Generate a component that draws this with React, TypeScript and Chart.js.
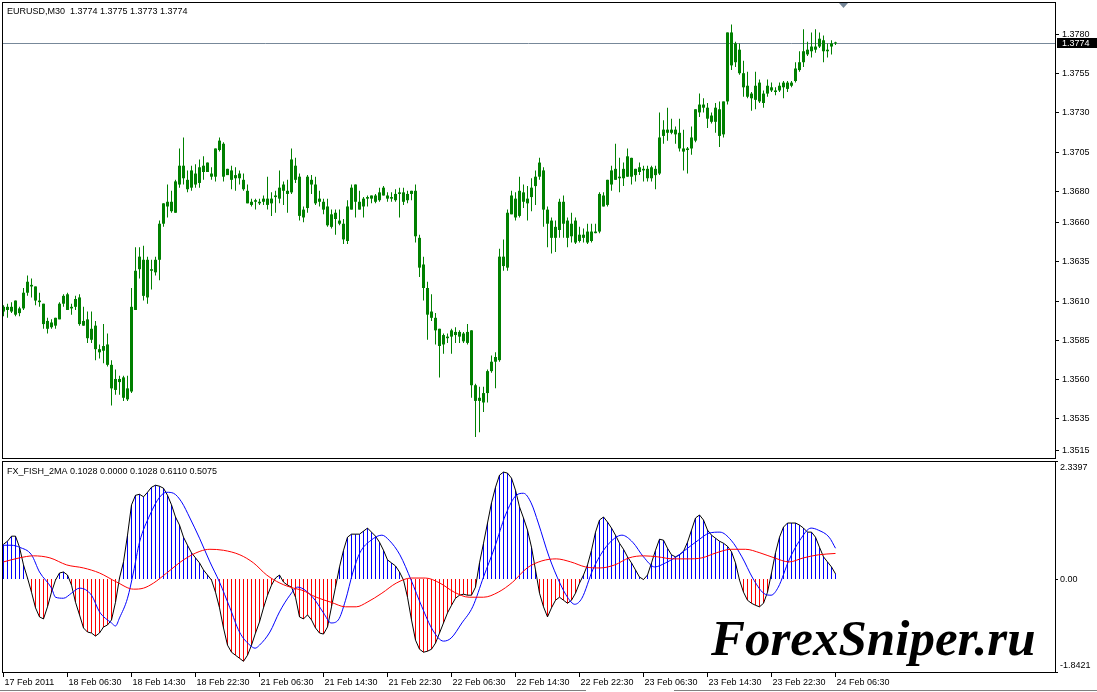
import React, { useEffect, useRef } from "react";
import { Chart, registerables } from "chart.js";

Chart.register(...registerables);

const symbolTitle = "EURUSD,M30  1.3774 1.3775 1.3773 1.3774";
const indicatorTitle = "FX_FISH_2MA 0.1028 0.0000 0.1028 0.6110 0.5075";
const watermarkText = "ForexSniper.ru";

const openPrices = [
  1.3603,1.3606,1.3603,1.3610,1.3602,1.3605,1.3615,1.3620,1.3619,1.3610,
  1.3608,1.3597,1.3593,1.3594,1.3598,1.3613,1.3614,1.3605,1.3611,1.3612,
  1.3597,1.3598,1.3592,1.3594,1.3577,1.3581,1.3582,1.3569,1.3553,1.3560,
  1.3561,1.3547,1.3552,1.3604,1.3638,1.3636,1.3612,1.3629,1.3628,1.3636,
  1.3659,1.3673,1.3667,1.3666,1.3684,1.3696,1.3681,1.3682,1.3684,1.3685,
  1.3692,1.3698,1.3689,1.3689,1.3712,1.3710,1.3694,1.3693,1.3688,1.3691,
  1.3687,1.3680,1.3671,1.3674,1.3672,1.3675,1.3671,1.3672,1.3676,1.3675,
  1.3684,1.3678,1.3679,1.3696,1.3689,1.3663,1.3669,1.3687,1.3684,1.3675,
  1.3673,1.3670,1.3657,1.3666,1.3661,1.3649,1.3648,1.3668,1.3684,1.3668,
  1.3670,1.3675,1.3677,1.3673,1.3674,1.3682,1.3677,1.3675,1.3674,1.3679,
  1.3679,1.3674,1.3680,1.3680,1.3650,1.3633,1.3618,1.3603,1.3599,1.3592,
  1.3582,1.3586,1.3587,1.3590,1.3590,1.3589,1.3590,1.3591,1.3556,1.3546,
  1.3545,1.3551,1.3565,1.3571,1.3572,1.3632,1.3631,1.3677,1.3663,1.3664,
  1.3679,1.3672,1.3676,1.3683,1.3698,1.3693,1.3668,1.3661,1.3650,1.3655,
  1.3673,1.3661,1.3659,1.3661,1.3648,1.3652,1.3647,1.3648,1.3653,1.3654,
  1.3670,1.3671,1.3684,1.3694,1.3688,1.3688,1.3702,1.3701,1.3690,1.3692,
  1.3694,1.3688,1.3688,1.3690,1.3691,1.3715,1.3717,1.3719,1.3719,1.3717,
  1.3705,1.3706,1.3707,1.3712,1.3730,1.3735,1.3733,1.3724,1.3733,1.3715,
  1.3716,1.3737,1.3781,1.3774,1.3770,1.3755,1.3747,1.3739,1.3738,1.3749,
  1.3736,1.3742,1.3746,1.3743,1.3744,1.3749,1.3745,1.3747,1.3750,1.3757,
  1.3762,1.3767,1.3769,1.3770,1.3777,1.3776,1.3769,1.3772,1.3774
];

const highPrices = [
  1.3607,1.3608,1.3609,1.3610,1.3606,1.3618,1.3626,1.3624,1.3619,1.3615,
  1.3608,1.3599,1.3598,1.3599,1.3609,1.3614,1.3615,1.3608,1.3613,1.3614,
  1.3606,1.3603,1.3603,1.3597,1.3582,1.3595,1.3589,1.3572,1.3566,1.3562,
  1.3562,1.3562,1.3618,1.3644,1.3644,1.3645,1.3638,1.3636,1.3638,1.3661,
  1.3672,1.3684,1.3680,1.3687,1.3707,1.3714,1.3693,1.3696,1.3697,1.3700,
  1.3702,1.3698,1.3695,1.3707,1.3714,1.3711,1.3694,1.3696,1.3695,1.3693,
  1.3691,1.3684,1.3675,1.3675,1.3675,1.3677,1.3689,1.3679,1.3680,1.3693,
  1.3686,1.3687,1.3707,1.3701,1.3691,1.3670,1.3690,1.3690,1.3689,1.3680,
  1.3675,1.3675,1.3668,1.3668,1.3668,1.3662,1.3674,1.3684,1.3684,1.3680,
  1.3676,1.3677,1.3677,1.3678,1.3682,1.3683,1.3679,1.3679,1.3681,1.3682,
  1.3682,1.3680,1.3680,1.3684,1.3652,1.3638,1.3622,1.3614,1.3602,1.3592,
  1.3589,1.3589,1.3592,1.3593,1.3591,1.3590,1.3595,1.3591,1.3557,1.3555,
  1.3555,1.3566,1.3575,1.3577,1.3643,1.3649,1.3668,1.3680,1.3679,1.3689,
  1.3684,1.3683,1.3688,1.3693,1.3701,1.3695,1.3670,1.3663,1.3661,1.3675,
  1.3677,1.3663,1.3666,1.3663,1.3657,1.3656,1.3659,1.3659,1.3659,1.3679,
  1.3679,1.3687,1.3696,1.3710,1.3701,1.3698,1.3707,1.3701,1.3694,1.3698,
  1.3696,1.3696,1.3696,1.3696,1.3730,1.3725,1.3733,1.3726,1.3721,1.3726,
  1.3719,1.3708,1.3721,1.3732,1.3742,1.3739,1.3736,1.3730,1.3736,1.3737,
  1.3737,1.3781,1.3786,1.3775,1.3774,1.3763,1.3756,1.3743,1.3756,1.3751,
  1.3744,1.3751,1.3749,1.3746,1.3749,1.3750,1.3750,1.3750,1.3762,1.3769,
  1.3783,1.3775,1.3781,1.3783,1.3781,1.3779,1.3774,1.3776,1.3775
];

const lowPrices = [
  1.3600,1.3599,1.3602,1.3600,1.3600,1.3604,1.3613,1.3612,1.3607,1.3606,
  1.3592,1.3589,1.3592,1.3592,1.3598,1.3606,1.3604,1.3601,1.3604,1.3594,
  1.3594,1.3583,1.3583,1.3572,1.3573,1.3570,1.3568,1.3543,1.3550,1.3550,
  1.3546,1.3546,1.3551,1.3604,1.3624,1.3610,1.3608,1.3617,1.3626,1.3623,
  1.3657,1.3663,1.3666,1.3666,1.3682,1.3684,1.3679,1.3680,1.3682,1.3682,
  1.3687,1.3692,1.3687,1.3686,1.3705,1.3686,1.3690,1.3681,1.3680,1.3684,
  1.3680,1.3672,1.3670,1.3668,1.3671,1.3671,1.3668,1.3664,1.3666,1.3672,
  1.3671,1.3666,1.3678,1.3685,1.3661,1.3660,1.3666,1.3678,1.3671,1.3670,
  1.3665,1.3657,1.3656,1.3652,1.3658,1.3646,1.3646,1.3668,1.3663,1.3668,
  1.3663,1.3670,1.3672,1.3672,1.3673,1.3677,1.3673,1.3673,1.3673,1.3663,
  1.3671,1.3672,1.3674,1.3647,1.3625,1.3610,1.3585,1.3597,1.3582,1.3561,
  1.3576,1.3583,1.3576,1.3583,1.3583,1.3583,1.3582,1.3548,1.3523,1.3526,
  1.3539,1.3545,1.3564,1.3554,1.3571,1.3629,1.3629,1.3665,1.3661,1.3663,
  1.3669,1.3661,1.3667,1.3671,1.3687,1.3657,1.3644,1.3640,1.3641,1.3650,
  1.3650,1.3644,1.3647,1.3646,1.3647,1.3647,1.3646,1.3647,1.3653,1.3653,
  1.3670,1.3670,1.3680,1.3687,1.3679,1.3683,1.3689,1.3684,1.3686,1.3690,
  1.3686,1.3686,1.3686,1.3681,1.3690,1.3710,1.3712,1.3716,1.3710,1.3705,
  1.3693,1.3691,1.3703,1.3711,1.3727,1.3730,1.3720,1.3723,1.3717,1.3708,
  1.3714,1.3735,1.3757,1.3759,1.3754,1.3740,1.3739,1.3731,1.3732,1.3736,
  1.3733,1.3740,1.3743,1.3741,1.3743,1.3739,1.3743,1.3746,1.3749,1.3756,
  1.3759,1.3766,1.3765,1.3768,1.3771,1.3762,1.3765,1.3767,1.3773
];

const closePrices = [
  1.3606,1.3604,1.3606,1.3601,1.3605,1.3615,1.3622,1.3619,1.3610,1.3609,
  1.3595,1.3592,1.3596,1.3599,1.3608,1.3608,1.3604,1.3606,1.3606,1.3595,
  1.3594,1.3586,1.3585,1.3579,1.3579,1.3578,1.3569,1.3554,1.3560,1.3558,
  1.3548,1.3554,1.3606,1.3629,1.3630,1.3613,1.3636,1.3630,1.3636,1.3659,
  1.3672,1.3670,1.3673,1.3686,1.3696,1.3688,1.3687,1.3693,1.3691,1.3695,
  1.3696,1.3692,1.3691,1.3707,1.3706,1.3689,1.3690,1.3687,1.3690,1.3688,
  1.3681,1.3672,1.3673,1.3673,1.3673,1.3673,1.3675,1.3675,1.3677,1.3682,
  1.3680,1.3680,1.3700,1.3687,1.3664,1.3668,1.3689,1.3684,1.3672,1.3673,
  1.3668,1.3658,1.3665,1.3662,1.3659,1.3659,1.3670,1.3682,1.3673,1.3673,
  1.3675,1.3676,1.3675,1.3677,1.3679,1.3677,1.3675,1.3676,1.3678,1.3678,
  1.3673,1.3678,1.3678,1.3651,1.3631,1.3618,1.3601,1.3599,1.3591,1.3581,
  1.3588,1.3587,1.3591,1.3588,1.3587,1.3584,1.3583,1.3556,1.3546,1.3548,
  1.3551,1.3565,1.3571,1.3574,1.3638,1.3638,1.3666,1.3665,1.3675,1.3680,
  1.3673,1.3675,1.3682,1.3689,1.3689,1.3668,1.3659,1.3650,1.3657,1.3673,
  1.3659,1.3650,1.3651,1.3647,1.3652,1.3650,1.3654,1.3654,1.3654,1.3678,
  1.3677,1.3687,1.3693,1.3687,1.3689,1.3694,1.3689,1.3689,1.3694,1.3695,
  1.3693,1.3694,1.3695,1.3694,1.3714,1.3719,1.3719,1.3717,1.3716,1.3707,
  1.3707,1.3707,1.3714,1.3732,1.3735,1.3733,1.3726,1.3728,1.3724,1.3732,
  1.3737,1.3781,1.3760,1.3762,1.3755,1.3746,1.3740,1.3742,1.3747,1.3737,
  1.3742,1.3747,1.3744,1.3744,1.3747,1.3746,1.3749,1.3749,1.3758,1.3762,
  1.3769,1.3770,1.3772,1.3772,1.3772,1.3769,1.3770,1.3774,1.3774
];

const bidPrice = 1.3774;
const priceTicks = [1.378, 1.3755, 1.373, 1.3705, 1.368, 1.366, 1.3635, 1.361, 1.3585, 1.356, 1.3535, 1.3515];

const timeTickBars = [0, 16, 32, 48, 64, 80, 96, 112, 128, 144, 160, 176, 192, 208];
const timeTickLabels = [
  "17 Feb 2011", "18 Feb 06:30", "18 Feb 14:30", "18 Feb 22:30", "21 Feb 06:30",
  "21 Feb 14:30", "21 Feb 22:30", "22 Feb 06:30", "22 Feb 14:30", "22 Feb 22:30",
  "23 Feb 06:30", "23 Feb 14:30", "23 Feb 22:30", "24 Feb 06:30"
];

const fisherValues = [
  0.69,0.75,0.85,0.85,0.63,0.28,0.02,-0.26,-0.57,-0.75,
  -0.79,-0.55,-0.26,-0.02,0.12,0.14,0.08,-0.12,-0.46,-0.71,
  -0.97,-1.05,-1.07,-1.13,-1.07,-0.95,-0.91,-0.81,-0.46,0.02,
  0.34,0.87,1.47,1.66,1.68,1.63,1.72,1.82,1.86,1.84,
  1.80,1.66,1.47,1.23,1.07,0.83,0.67,0.52,0.42,0.32,
  0.18,0.08,-0.02,-0.26,-0.57,-0.97,-1.31,-1.45,-1.51,-1.57,
  -1.63,-1.51,-1.31,-1.07,-0.85,-0.57,-0.32,-0.12,0.02,0.08,
  -0.06,-0.12,-0.16,-0.36,-0.75,-0.79,-0.71,-0.81,-0.97,-1.07,
  -1.09,-0.95,-0.55,-0.16,0.24,0.57,0.83,0.89,0.89,0.89,
  0.95,1.01,0.93,0.85,0.73,0.57,0.38,0.32,0.26,0.14,
  -0.02,-0.36,-0.81,-1.21,-1.39,-1.45,-1.43,-1.39,-1.27,-1.07,
  -0.87,-0.67,-0.52,-0.38,-0.32,-0.30,-0.32,-0.32,-0.16,0.32,
  0.71,1.11,1.51,1.82,2.06,2.12,2.10,2.00,1.76,1.43,
  1.21,0.97,0.63,0.18,-0.28,-0.55,-0.75,-0.57,-0.42,-0.36,
  -0.42,-0.48,-0.42,-0.28,-0.08,0.08,0.28,0.57,0.93,1.17,
  1.23,1.13,1.01,0.87,0.71,0.59,0.44,0.32,0.18,0.04,
  -0.01,0.08,0.32,0.57,0.79,0.77,0.61,0.48,0.44,0.48,
  0.55,0.73,0.97,1.21,1.27,1.17,0.97,0.87,0.81,0.75,
  0.71,0.65,0.54,0.32,-0.02,-0.26,-0.42,-0.48,-0.52,-0.55,
  -0.48,-0.26,0.12,0.52,0.83,1.03,1.11,1.11,1.11,1.07,
  1.01,0.93,0.93,0.83,0.63,0.44,0.34,0.24,0.1028
];

const signalBars = [
  0,2,4,7,9,12,13,15,17,19,22,24,27,28,29,31,32.5,34,36.6,39,
  40.8,42.5,44.5,46.6,49,51.6,54,56.6,59,61.6,62.9,64,66.6,69,71.6,
  73.5,77.3,80,81.9,83.7,85.5,87.3,89.1,91.9,94.6,96.4,99.1,101.9,104.6,107.3,
  110,111.9,114.6,117.3,120,122.8,125.5,128.2,130,131.9,133.7,136.4,139.1,141,142.8,
  144.6,147.3,150,152.8,154.6,157.3,160,162.8,165.5,168.2,171,173.7,176.4,179.1,181.9,
  184.6,187.3,190,191.9,193.7,196.4,199.1,201.9,203.7,206.4,208
];
const signalValues = [
  0.67,0.67,0.63,0.48,0.14,-0.18,-0.36,-0.38,-0.28,-0.18,-0.32,-0.65,-0.87,-0.93,-0.77,-0.38,0.14,0.73,1.27,1.62,
  1.72,1.70,1.53,1.21,0.81,0.34,-0.06,-0.57,-1.05,-1.31,-1.37,-1.31,-1.05,-0.65,-0.32,
  -0.16,-0.36,-0.67,-0.87,-0.81,-0.42,0.12,0.52,0.77,0.87,0.77,0.48,-0.02,-0.55,-1.01,
  -1.23,-1.17,-0.87,-0.55,0.04,0.63,1.27,1.66,1.70,1.51,1.11,0.44,-0.08,-0.36,-0.50,
  -0.38,0.18,0.57,0.81,0.87,0.73,0.44,0.24,0.32,0.44,0.61,0.77,0.91,0.93,0.77,
  0.44,0.02,-0.28,-0.32,-0.16,0.38,0.77,1.01,0.97,0.83,0.611
];

const slowBars = [
  0,4,7.5,11.6,15.8,20,24,28.3,32.5,35,37.5,40.8,45,49.1,51.6,55,59.1,62.5,65.8,69.1,
  72.5,74.6,78.2,81.9,85.5,88.2,90.9,94.6,98.2,101.9,105.5,109.1,112.7,116.4,120,123.7,127.3,130.9,134.6,138.2,
  141.8,145.5,149.1,152.8,156.4,160,163.6,167.3,171,174.6,178.2,181.9,185.5,189.1,192.7,196.4,200,203.7,208
];
const slowValues = [
  0.34,0.42,0.46,0.42,0.28,0.22,0.12,-0.06,-0.20,-0.18,-0.08,0.12,0.38,0.55,0.59,0.57,0.48,0.32,0.08,-0.08,
  -0.18,-0.22,-0.36,-0.46,-0.55,-0.55,-0.46,-0.28,-0.08,0.02,0.02,-0.08,-0.26,-0.36,-0.36,-0.26,-0.06,0.22,0.36,0.40,
  0.34,0.24,0.22,0.28,0.42,0.46,0.44,0.40,0.40,0.42,0.52,0.59,0.59,0.52,0.42,0.34,0.42,0.48,0.5075
];

const fishTicks = [2.3397, 0, -1.8421];
const fishTickLabels = ["2.3397", "0.00", "-1.8421"];

// view settings
const X_MIN = -0.375;
const X_MAX = 262.875;
const PRICE_MIN = 1.350959;
const PRICE_MAX = 1.380041;
const FISH_MIN = -1.8421;
const FISH_MAX = 2.3397;

const CANDLE = "#008000";
const AXIS_FONT = '9px "Liberation Sans", Arial, sans-serif';

const mainOverlay = {
  id: "mainOverlay",
  beforeDatasetsDraw(chart: any) {
    const { ctx, chartArea: ca, scales } = chart;
    const yb = Math.round(scales.y.getPixelForValue(bidPrice)) + 0.5;
    ctx.save();
    ctx.strokeStyle = "#778899";
    ctx.lineWidth = 1;
    ctx.beginPath();
    ctx.moveTo(ca.left, yb);
    ctx.lineTo(ca.right, yb);
    ctx.stroke();
    ctx.restore();
  },
  afterDraw(chart: any) {
    const { ctx, chartArea: ca, scales } = chart;
    ctx.save();
    ctx.strokeStyle = "#000";
    ctx.lineWidth = 1;
    ctx.strokeRect(ca.left + 0.5, ca.top + 0.5, ca.right - ca.left, ca.bottom - ca.top);
    ctx.font = AXIS_FONT;
    ctx.fillStyle = "#000";
    ctx.textAlign = "left";
    ctx.textBaseline = "middle";
    priceTicks.forEach((v) => {
      const y = Math.round(scales.y.getPixelForValue(v)) + 0.5;
      ctx.beginPath();
      ctx.moveTo(ca.right + 1, y);
      ctx.lineTo(ca.right + 4, y);
      ctx.stroke();
      ctx.fillText(v.toFixed(4), ca.right + 7, y + 0.5);
    });
    const yb = Math.round(scales.y.getPixelForValue(bidPrice)) + 0.5;
    ctx.fillStyle = "#000";
    ctx.fillRect(ca.right + 2, yb - 5.5, 40, 10);
    ctx.fillStyle = "#fff";
    ctx.fillText(bidPrice.toFixed(4), ca.right + 7, yb + 0.5);
    ctx.fillStyle = "#000";
    ctx.textBaseline = "alphabetic";
    ctx.fillText(symbolTitle, 7, 14);
    // shift marker
    ctx.fillStyle = "#778899";
    ctx.beginPath();
    ctx.moveTo(839, ca.top + 1);
    ctx.lineTo(848, ca.top + 1);
    ctx.lineTo(843.5, ca.top + 6);
    ctx.closePath();
    ctx.fill();
    ctx.restore();
  },
};

const fishOverlay = {
  id: "fishOverlay",
  afterDraw(chart: any) {
    const { ctx, chartArea: ca, scales } = chart;
    ctx.save();
    ctx.strokeStyle = "#000";
    ctx.lineWidth = 1;
    ctx.strokeRect(ca.left + 0.5, ca.top + 0.5, ca.right - ca.left, ca.bottom - ca.top);
    ctx.font = AXIS_FONT;
    ctx.fillStyle = "#000";
    ctx.textAlign = "left";
    ctx.textBaseline = "middle";
    fishTicks.forEach((v, i) => {
      const py = scales.y.getPixelForValue(v);
      const y = Math.round(Math.min(Math.max(py, ca.top), ca.bottom)) + 0.5;
      ctx.beginPath();
      ctx.moveTo(ca.right + 1, y);
      ctx.lineTo(ca.right + 3, y);
      ctx.stroke();
      const ly = Math.min(Math.max(y, ca.top + 7), ca.bottom - 6);
      ctx.fillText(fishTickLabels[i], ca.right + 5, ly);
    });
    ctx.textBaseline = "alphabetic";
    ctx.fillText(indicatorTitle, 7, ca.top + 13);
    // time axis
    timeTickBars.forEach((b, i) => {
      const x = Math.round(scales.x.getPixelForValue(b) - 0.5) + 0.5;
      ctx.beginPath();
      ctx.moveTo(x, ca.bottom + 1);
      ctx.lineTo(x, ca.bottom + 5);
      ctx.stroke();
      ctx.fillText(timeTickLabels[i], x + 1, ca.bottom + 13);
    });
    // bottom tab bar edge
    ctx.strokeStyle = "#808080";
    ctx.beginPath();
    ctx.moveTo(0, ca.bottom + 18.5);
    ctx.lineTo(586, ca.bottom + 18.5);
    ctx.moveTo(674, ca.bottom + 18.5);
    ctx.lineTo(1097, ca.bottom + 18.5);
    ctx.stroke();
    // watermark
    ctx.font = 'italic bold 51px "Liberation Serif", "Times New Roman", serif';
    ctx.fillStyle = "#000";
    ctx.fillText(watermarkText, 711, ca.bottom - 17);
    ctx.restore();
  },
};

export default function App() {
  const mainRef = useRef<HTMLCanvasElement | null>(null);
  const fishRef = useRef<HTMLCanvasElement | null>(null);

  useEffect(() => {
    const idx = openPrices.map((_, i) => i);
    const mainChart = new Chart(mainRef.current as HTMLCanvasElement, {
      type: "bar",
      data: {
        datasets: [
          {
            label: "body",
            data: idx.map((i) => ({ x: i, y: [openPrices[i], closePrices[i]] })) as any,
            backgroundColor: CANDLE,
            borderWidth: 0,
            barThickness: 3,
            minBarLength: 1,
            grouped: false,
            inflateAmount: 0,
            order: 0,
          } as any,
          {
            label: "wick",
            data: idx.map((i) => ({ x: i, y: [lowPrices[i], highPrices[i]] })) as any,
            backgroundColor: CANDLE,
            borderWidth: 0,
            barThickness: 1,
            grouped: false,
            inflateAmount: 0,
            order: 1,
          } as any,
        ],
      },
      options: {
        responsive: false,
        animation: false,
        devicePixelRatio: 1,
        events: [],
        layout: { padding: { left: 2, top: 2, right: 42, bottom: 2 } },
        scales: {
          x: { type: "linear", min: X_MIN, max: X_MAX, offset: false, display: false },
          y: { type: "linear", min: PRICE_MIN, max: PRICE_MAX, beginAtZero: false, display: false },
        },
        plugins: { legend: { display: false }, tooltip: { enabled: false } },
      },
      plugins: [mainOverlay],
    });

    const fishChart = new Chart(fishRef.current as HTMLCanvasElement, {
      type: "bar",
      data: {
        datasets: [
          {
            type: "line",
            label: "slow",
            data: slowBars.map((b, i) => ({ x: b, y: slowValues[i] })),
            borderColor: "#ff0000",
            borderWidth: 1,
            pointRadius: 0,
            cubicInterpolationMode: "monotone",
            order: 0,
          } as any,
          {
            type: "line",
            label: "signal",
            data: signalBars.map((b, i) => ({ x: b, y: signalValues[i] })),
            borderColor: "#0000ff",
            borderWidth: 1,
            pointRadius: 0,
            cubicInterpolationMode: "monotone",
            order: 1,
          } as any,
          {
            type: "line",
            label: "fisher",
            data: idx.map((i) => ({ x: i, y: fisherValues[i] })),
            borderColor: "#000000",
            borderWidth: 1,
            pointRadius: 0,
            tension: 0,
            order: 2,
          } as any,
          {
            type: "bar",
            label: "hist",
            data: idx.map((i) => ({ x: i, y: fisherValues[i] })),
            backgroundColor: fisherValues.map((v) => (v >= 0 ? "#0000ff" : "#ff0000")),
            borderWidth: 0,
            barThickness: 1,
            grouped: false,
            inflateAmount: 0,
            order: 3,
          } as any,
        ],
      },
      options: {
        responsive: false,
        animation: false,
        devicePixelRatio: 1,
        events: [],
        layout: { padding: { left: 2, top: 1, right: 42, bottom: 20 } },
        scales: {
          x: { type: "linear", min: X_MIN, max: X_MAX, offset: false, display: false },
          y: { type: "linear", min: FISH_MIN, max: FISH_MAX, display: false },
        },
        plugins: { legend: { display: false }, tooltip: { enabled: false } },
      },
      plugins: [fishOverlay],
    });

    return () => {
      mainChart.destroy();
      fishChart.destroy();
    };
  }, []);

  return (
    <div
      style={{
        position: "fixed",
        left: 0,
        top: 0,
        width: 1097,
        height: 692,
        background: "#ffffff",
        overflow: "hidden",
      }}
    >
      <canvas
        ref={mainRef}
        width={1097}
        height={460}
        style={{ position: "absolute", left: 0, top: 0, width: 1097, height: 460, display: "block" }}
      />
      <canvas
        ref={fishRef}
        width={1097}
        height={232}
        style={{ position: "absolute", left: 0, top: 460, width: 1097, height: 232, display: "block" }}
      />
    </div>
  );
}
